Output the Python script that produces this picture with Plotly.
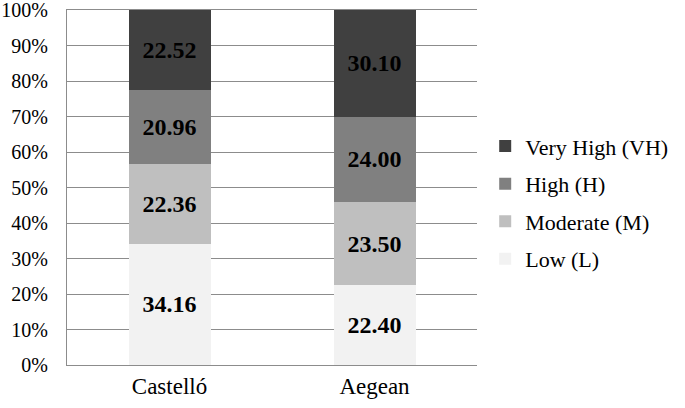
import plotly.graph_objects as go

categories = ["Castelló", "Aegean"]
series_names = ["Low (L)", "Moderate (M)", "High (H)", "Very High (VH)"]
low = [34.16, 22.40]
moderate = [22.36, 23.50]
high = [20.96, 24.00]
very_high = [22.52, 30.10]
tick_values = [0, 10, 20, 30, 40, 50, 60, 70, 80, 90, 100]
tick_labels = ["0%", "10%", "20%", "30%", "40%", "50%", "60%", "70%", "80%", "90%", "100%"]

colors = ["#f2f2f2", "#bfbfbf", "#808080", "#404040"]
ranks = [4, 3, 2, 1]
FONT = "Liberation Serif, Times New Roman, serif"

fig = go.Figure()
for name, vals, col, rk in zip(series_names, [low, moderate, high, very_high], colors, ranks):
    fig.add_trace(go.Bar(
        x=categories, y=vals, name=name, legendgroup=name, legendrank=rk,
        marker=dict(color=col, line=dict(width=0)),
        texttemplate="%{y:.2f}", textposition="inside", insidetextanchor="middle",
        textangle=0,
        textfont=dict(family=FONT, size=24, color="black", weight="bold"),
        hoverinfo="skip",
    ))

fig.update_layout(
    width=685, height=408,
    margin=dict(l=67, r=208, t=10, b=43),
    barmode="stack", bargap=0.6,
    plot_bgcolor="white", paper_bgcolor="white",
    font=dict(family=FONT, size=20, color="black"),
    legend=dict(
        x=1.02, xanchor="left", y=0.457, yanchor="middle",
        traceorder="grouped", tracegroupgap=6,
        font=dict(family=FONT, size=22, color="black"),
        itemwidth=30,
    ),
    yaxis=dict(
        range=[0, 100], tickvals=tick_values, ticktext=tick_labels,
        showgrid=True, gridcolor="#8c8c8c", gridwidth=1.3,
        showline=True, linecolor="#8c8c8c", linewidth=1.3,
        ticks="", zeroline=False, automargin=False,
        ticklabeloverflow="allow", ticklabelstandoff=14,
        tickfont=dict(family=FONT, size=20, color="black"),
    ),
    xaxis=dict(
        showline=True, mirror=True, linecolor="#8c8c8c", linewidth=1.3,
        ticks="", automargin=False,
        tickfont=dict(family=FONT, size=23, color="black"),
    ),
)

fig.write_html("out.html", post_script="document.body.style.margin='0';",
               config={"displayModeBar": False})
